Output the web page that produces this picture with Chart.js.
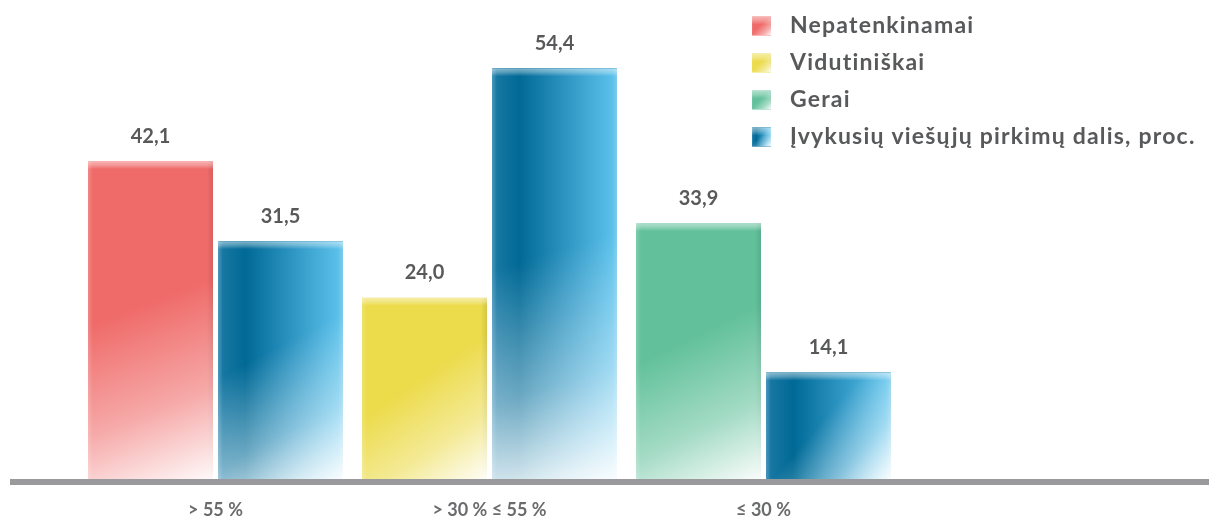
<!DOCTYPE html>
<html>
<head>
<meta charset="utf-8">
<script src="https://cdn.jsdelivr.net/npm/chart.js@4.4.1/dist/chart.umd.min.js"></script>
<style>
  html, body { margin: 0; padding: 0; background: #ffffff; }
  #wrap { width: 1209px; height: 520px; }
</style>
</head>
<body>
<div id="wrap"><canvas id="c" width="1209" height="520"></canvas></div>
<script>
// ---- data ----
const categories = ['> 55 %', '> 30 % ≤ 55 %', '≤ 30 %'];
const seriesNames = ['Nepatenkinamai', 'Vidutiniškai', 'Gerai', 'Įvykusių viešųjų pirkimų dalis, proc.'];
const nepatenkinamai = [42.1, null, null];
const vidutiniskai = [null, 24.0, null];
const gerai = [null, null, 33.9];
const ivykusiu = [31.5, 54.4, 14.1];
const seriesColors = ['#ef6b69', '#ecdb4b', '#62c19b', '#0a6f9c'];
const textColor = '#58595b';
const FONT = 'Lato, "Open Sans", sans-serif';

function shadeRect(ctx, l, t, w, h, di) {
  const r = l + w, b = t + h;
  let g;
  if (di === 3) {
    g = ctx.createLinearGradient(l, 0, r, 0);
    g.addColorStop(0, '#4a97bd');
    g.addColorStop(0.04, '#1677a2');
    g.addColorStop(0.22, '#006995');
    g.addColorStop(0.6, '#2f96c3');
    g.addColorStop(0.96, '#5ac0ea');
    g.addColorStop(1, '#7ccbec');
    ctx.fillStyle = g;
    ctx.fillRect(l, t, w, h);
  } else {
    g = ctx.createLinearGradient(l, 0, r, 0);
    g.addColorStop(0, 'rgba(255,255,255,0.18)');
    g.addColorStop(0.04, 'rgba(255,255,255,0)');
    g.addColorStop(0.95, 'rgba(0,0,0,0)');
    g.addColorStop(1, 'rgba(0,0,0,0.10)');
    ctx.fillStyle = g;
    ctx.fillRect(l, t, w, h);
  }
  // top highlight
  g = ctx.createLinearGradient(0, t, 0, t + 8);
  g.addColorStop(0, 'rgba(255,255,255,0.5)');
  g.addColorStop(0.5, 'rgba(255,255,255,0.3)');
  g.addColorStop(1, 'rgba(255,255,255,0)');
  ctx.fillStyle = g;
  ctx.fillRect(l, t, w, Math.min(8, h));
  // diagonal white fade towards bottom-right
  g = ctx.createLinearGradient(l, t, r, b);
  g.addColorStop(0, 'rgba(255,255,255,0)');
  g.addColorStop(0.45, 'rgba(255,255,255,0)');
  g.addColorStop(0.75, 'rgba(255,255,255,0.42)');
  g.addColorStop(1, 'rgba(255,255,255,0.96)');
  ctx.fillStyle = g;
  ctx.fillRect(l, t, w, h);
}

const decorPlugin = {
  id: 'decor',
  afterDatasetsDraw(chart) {
    const ctx = chart.ctx;
    chart.data.datasets.forEach((ds, di) => {
      const meta = chart.getDatasetMeta(di);
      meta.data.forEach((bar, i) => {
        const v = ds.data[i];
        if (v == null) return;
        const p = bar.getProps(['x', 'y', 'base', 'width'], true);
        const l = p.x - p.width / 2, h = p.base - p.y;
        ctx.save();
        ctx.beginPath();
        ctx.rect(l, p.y, p.width, h);
        ctx.clip();
        shadeRect(ctx, l, p.y, p.width, h, di);
        ctx.restore();
        ctx.save();
        ctx.font = 'bold 20px ' + FONT;
        ctx.fillStyle = textColor;
        ctx.textAlign = 'center';
        ctx.textBaseline = 'middle';
        ctx.fillText(v.toFixed(1).replace('.', ','), p.x, p.y - 25);
        ctx.restore();
      });
    });
    // axis line
    const y0 = chart.scales.y.getPixelForValue(0);
    ctx.save();
    ctx.fillStyle = '#9a9a9c';
    ctx.fillRect(10, Math.round(y0), 1199, 6);
    ctx.restore();
  },
  afterDraw(chart) {
    const ctx = chart.ctx;
    const x0 = 752, rowY = [26, 63, 100, 137], sq = 19;
    chart.data.datasets.forEach((ds, di) => {
      const cy = rowY[di];
      ctx.save();
      ctx.fillStyle = seriesColors[di];
      ctx.fillRect(x0, cy - sq / 2, sq, sq);
      ctx.beginPath();
      ctx.rect(x0, cy - sq / 2, sq, sq);
      ctx.clip();
      shadeRect(ctx, x0, cy - sq / 2, sq, sq, di);
      ctx.restore();
      ctx.save();
      ctx.font = 'bold 23px ' + FONT;
      try { ctx.letterSpacing = '1.2px'; } catch (e) {}
      ctx.fillStyle = textColor;
      ctx.textAlign = 'left';
      ctx.textBaseline = 'middle';
      ctx.fillText(ds.label, 790, cy);
      ctx.restore();
    });
  }
};

function build() {
  new Chart(document.getElementById('c'), {
    type: 'bar',
    data: {
      labels: categories,
      datasets: [
        { label: seriesNames[0], data: nepatenkinamai, backgroundColor: seriesColors[0] },
        { label: seriesNames[1], data: vidutiniskai, backgroundColor: seriesColors[1] },
        { label: seriesNames[2], data: gerai, backgroundColor: seriesColors[2] },
        { label: seriesNames[3], data: ivykusiu, backgroundColor: seriesColors[3] }
      ]
    },
    options: {
      responsive: false,
      animation: false,
      devicePixelRatio: 1,
      layout: { padding: { left: 78.5, right: 308.5, top: 26, bottom: 0 } },
      datasets: { bar: { categoryPercentage: 260 / 274, barPercentage: 125 / 130, skipNull: true, borderWidth: 0 } },
      plugins: { legend: { display: false }, tooltip: { enabled: false } },
      scales: {
        x: {
          grid: { display: false, drawTicks: false },
          border: { display: false },
          ticks: { font: { family: FONT, weight: 'bold', size: 18 }, color: '#6a6b6d', padding: 20 },
          afterFit(scale) { scale.height = 41; }
        },
        y: { display: false, min: 0, max: 60 }
      }
    },
    plugins: [decorPlugin]
  });
}
if (document.fonts && document.fonts.load) {
  Promise.all([document.fonts.load('bold 20px Lato')]).then(build, build);
} else { build(); }
</script>
</body>
</html>
